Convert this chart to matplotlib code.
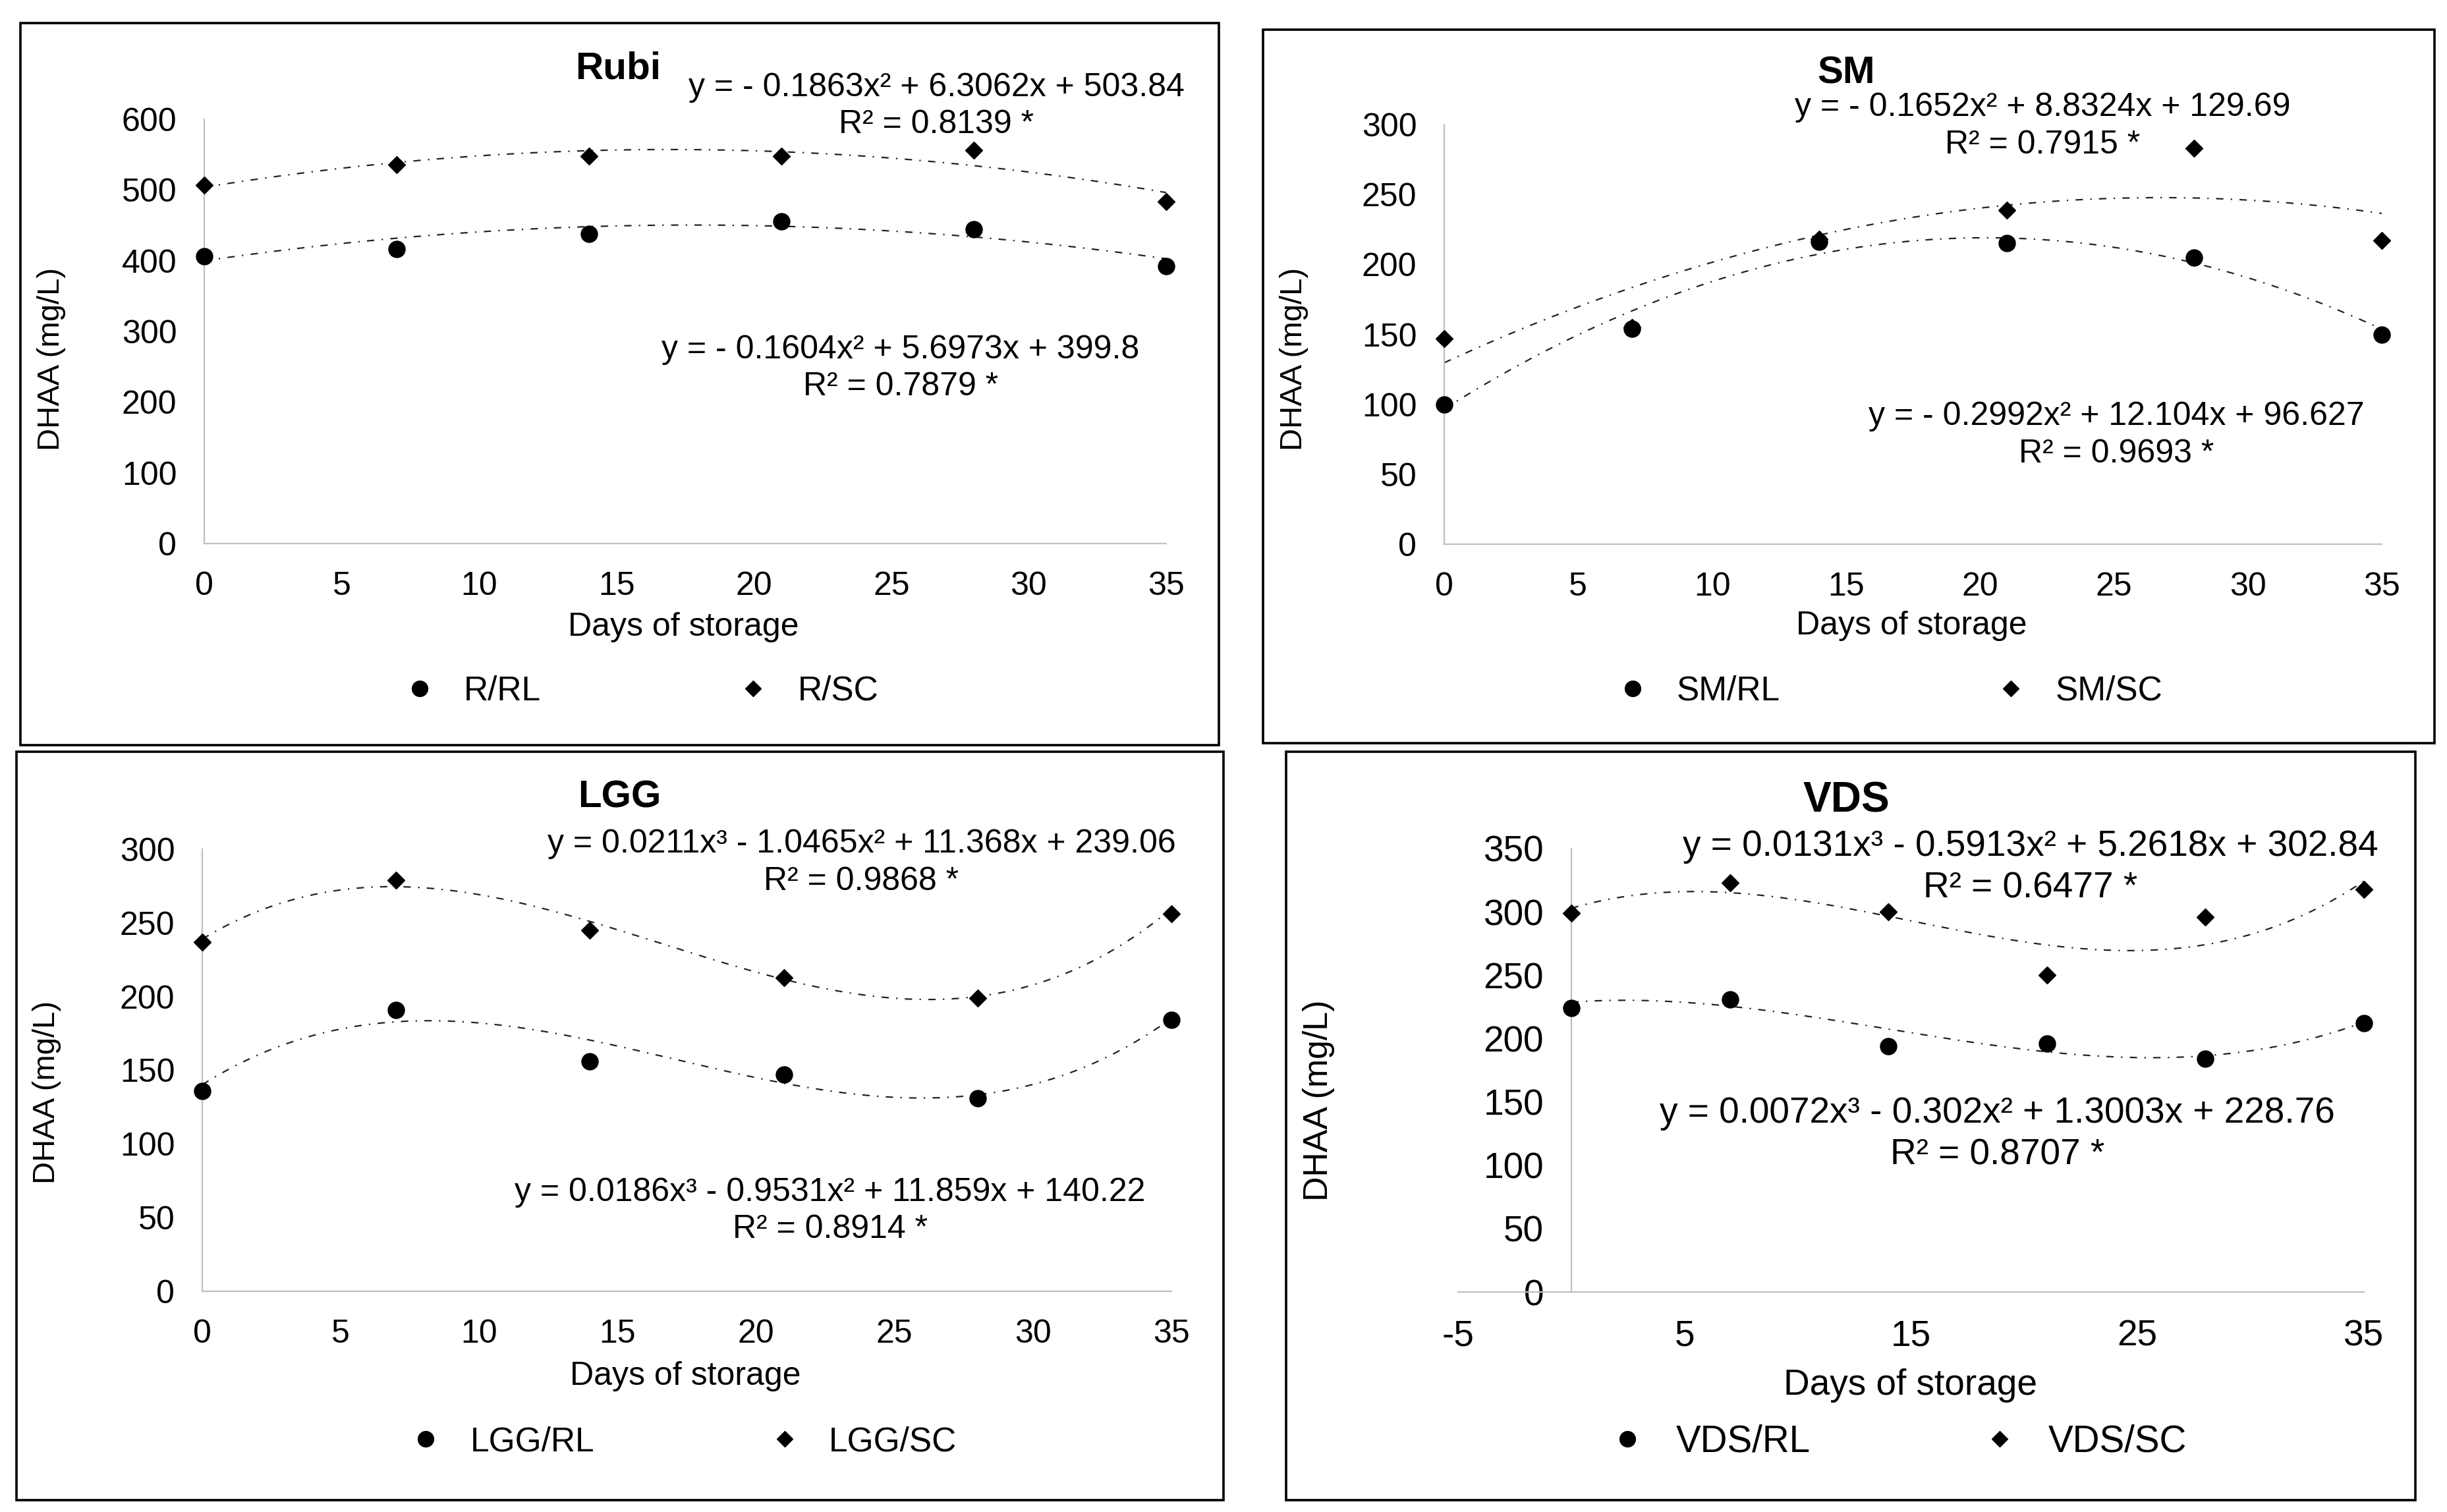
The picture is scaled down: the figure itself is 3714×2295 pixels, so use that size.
import numpy as np
import matplotlib
matplotlib.use("Agg")
import matplotlib.pyplot as plt
from matplotlib.patches import Rectangle

plt.rcParams['font.family'] = ['Liberation Sans', 'DejaVu Sans']
plt.rcParams['axes.unicode_minus'] = False

# ---------------- data ----------------
days = [0, 7, 14, 21, 28, 35]

rubi_rl = [406, 416, 438, 456, 444, 392]
rubi_sc = [507, 536, 548, 548, 556, 484]
rubi_rl_coef = [-0.1604, 5.6973, 399.8]
rubi_sc_coef = [-0.1863, 6.3062, 503.84]

sm_rl = [100, 154, 216, 215, 205, 150]
sm_sc = [147, 155, 218, 239, 283, 217]
sm_rl_coef = [-0.2992, 12.104, 96.627]
sm_sc_coef = [-0.1652, 8.8324, 129.69]

lgg_rl = [136, 191, 156, 147, 131, 184]
lgg_sc = [237, 279, 245, 213, 199, 256]
lgg_rl_coef = [0.0186, -0.9531, 11.859, 140.22]
lgg_sc_coef = [0.0211, -1.0465, 11.368, 239.06]

vds_rl = [224, 231, 194, 196, 184, 212]
vds_sc = [299, 323, 300, 250, 296, 318]
vds_rl_coef = [0.0072, -0.302, 1.3003, 228.76]
vds_sc_coef = [0.0131, -0.5913, 5.2618, 302.84]

titles = ['Rubi', 'SM', 'LGG', 'VDS']
legend_rl = ['R/RL', 'SM/RL', 'LGG/RL', 'VDS/RL']
legend_sc = ['R/SC', 'SM/SC', 'LGG/SC', 'VDS/SC']
eq_rl = ['y = - 0.1604x\u00b2 + 5.6973x + 399.8\nR\u00b2 = 0.7879 *',
         'y = - 0.2992x\u00b2 + 12.104x + 96.627\nR\u00b2 = 0.9693 *',
         'y = 0.0186x\u00b3 - 0.9531x\u00b2 + 11.859x + 140.22\nR\u00b2 = 0.8914 *',
         'y = 0.0072x\u00b3 - 0.302x\u00b2 + 1.3003x + 228.76\nR\u00b2 = 0.8707 *']
eq_sc = ['y = - 0.1863x\u00b2 + 6.3062x + 503.84\nR\u00b2 = 0.8139 *',
         'y = - 0.1652x\u00b2 + 8.8324x + 129.69\nR\u00b2 = 0.7915 *',
         'y = 0.0211x\u00b3 - 1.0465x\u00b2 + 11.368x + 239.06\nR\u00b2 = 0.9868 *',
         'y = 0.0131x\u00b3 - 0.5913x\u00b2 + 5.2618x + 302.84\nR\u00b2 = 0.6477 *']
x_label = 'Days of storage'
y_label = 'DHAA (mg/L)'

ylims = [600, 300, 300, 350]
yticks_step = [100, 50, 50, 50]
xlims = [(0, 35), (0, 35), (0, 35), (-5, 35)]
xticks = [list(range(0, 40, 5))] * 3 + [[-5, 5, 15, 25, 35]]

series = [(rubi_rl, rubi_sc, rubi_rl_coef, rubi_sc_coef),
          (sm_rl, sm_sc, sm_rl_coef, sm_sc_coef),
          (lgg_rl, lgg_sc, lgg_rl_coef, lgg_sc_coef),
          (vds_rl, vds_sc, vds_rl_coef, vds_sc_coef)]

# ---------------- layout ----------------
W, H = 3714, 2295
fig = plt.figure(figsize=(W / 100, H / 100), dpi=100)

def fx(px):
    return px / W

def fy(py):
    return 1 - py / H

# axes rectangles (pixel: left, right, top(y of max), bottom(y of 0))
axes_px = [(310, 1770, 181, 825),
           (2192, 3615, 189, 826),
           (307, 1778, 1289, 1960),
           (2213, 3588, 1288, 1961)]
boxes_px = [(31, 1850, 35, 1131),
            (1917, 3695, 45, 1128),
            (25, 1857, 1141, 2277),
            (1952, 3666, 1141, 2277)]
# display-coord text positions (display image 1568 wide)
S = W / 1568.0
title_pos = [(396, 44), (1183, 47), (397, 511), (1183, 513)]
sc_pos = [(600, 68), (1309, 81), (552, 553), (1301, 556)]
rl_pos = [(577, 236), (1356, 279), (532, 776), (1280, 727)]
xlab_pos = [(438, 402), (1225, 401), (439, 882), (1224, 888)]
ylab_pos = [(33, 230), (829, 230), (30, 700), (845, 705)]
leg_pos = [(410.5, 443), (1210.5, 443), (437.5, 924), (1216, 924)]
leg_colspace = [5.77, 6.32, 5.12, 4.58]
scale = [1.0, 1.0, 1.0, 1.1]

line_style = (0, (5, 5, 1, 5))

for i in range(4):
    l, r, t, b = axes_px[i]
    ax = fig.add_axes([fx(l), fy(b), fx(r) - fx(l), fy(t) - fy(b)])
    rl, sc, crl, csc = series[i]
    s = scale[i]
    fs = 36 * s

    xs = np.linspace(0, 35, 300)
    ax.plot(xs, np.polyval(csc, xs), color='#222222', lw=1.6, ls=line_style, zorder=2, clip_on=False)
    ax.plot(xs, np.polyval(crl, xs), color='#222222', lw=1.6, ls=line_style, zorder=2, clip_on=False)
    ax.plot(days, rl, 'o', color='black', ms=18, ls='none', label=legend_rl[i], zorder=3, clip_on=False)
    ax.plot(days, sc, 'D', color='black', ms=13, ls='none', label=legend_sc[i], zorder=3, clip_on=False)

    ax.set_xlim(*xlims[i])
    ax.set_ylim(0, ylims[i])
    ax.set_xticks(xticks[i])
    ax.set_yticks(np.arange(0, ylims[i] + 1, yticks_step[i]))
    ax.tick_params(length=0, labelsize=fs, pad=30, colors='black')
    for sp in ['top', 'right']:
        ax.spines[sp].set_visible(False)
    for sp in ['left', 'bottom']:
        ax.spines[sp].set_color('#BFBFBF')
        ax.spines[sp].set_linewidth(1.6)
    if xlims[i][0] < 0:
        ax.spines['left'].set_position(('data', 0))
    ax.patch.set_alpha(0)

    # title
    tx, ty = title_pos[i]
    fig.text(tx * S / W, fy(ty * S), titles[i], ha='center', va='center',
             fontsize=42 * s, fontweight='bold')
    # equations
    for (ex, ey), txt in [(sc_pos[i], eq_sc[i]), (rl_pos[i], eq_rl[i])]:
        fig.text(ex * S / W, fy(ey * S), txt, ha='center', va='center',
                 fontsize=fs, linespacing=1.3, multialignment='center')
    # axis labels
    xx, xy = xlab_pos[i]
    fig.text(xx * S / W, fy(xy * S), x_label, ha='center', va='center', fontsize=fs)
    yx, yy = ylab_pos[i]
    fig.text(yx * S / W, fy(yy * S), y_label, ha='center', va='center',
             fontsize=34 * s, rotation=90)
    # legend
    lx, ly = leg_pos[i]
    ax.legend(loc='center', bbox_to_anchor=(lx * S / W, fy(ly * S)),
              bbox_transform=fig.transFigure, ncol=2, frameon=False,
              fontsize=37 * s, handlelength=1.0, handletextpad=0.8,
              columnspacing=leg_colspace[i], markerscale=0.95)

    # panel box
    bl, br, bt, bb = boxes_px[i]
    fig.add_artist(Rectangle((fx(bl), fy(bb)), fx(br) - fx(bl), fy(bt) - fy(bb),
                             transform=fig.transFigure, fill=False,
                             edgecolor='black', linewidth=2.6))

fig.savefig('out.png', dpi=100, facecolor='white')
